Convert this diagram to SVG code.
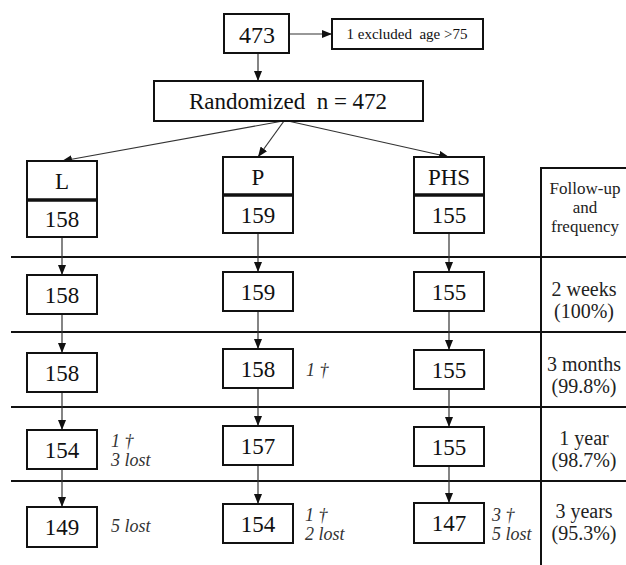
<svg xmlns="http://www.w3.org/2000/svg" width="626" height="565" viewBox="0 0 626 565">
<style>
text{font-family:"Liberation Serif",Tinos,"Times New Roman","DejaVu Serif","Noto Serif",serif}
.box{fill:#fff;stroke:#111;stroke-width:2}
.num{font-size:23px;fill:#111;text-anchor:middle}
.small{font-size:15px;fill:#111;text-anchor:middle}
.fh{font-size:17px;fill:#222;text-anchor:middle}
.fu{font-size:20px;fill:#222;text-anchor:middle}
.ann{font-size:18px;font-style:italic;fill:#333}
.con{stroke:#333;stroke-width:1.2;fill:none}
.rule{stroke:#111;stroke-width:2}
.div{stroke:#111;stroke-width:3.5}
</style>
<defs>
<marker id="ah" markerUnits="userSpaceOnUse" markerWidth="10" markerHeight="8" refX="10" refY="4" orient="auto">
<path d="M0,0 L10,4 L0,8 z" fill="#111"/>
</marker>
</defs>

<g id="table">
<line class="rule" x1="11" y1="257" x2="626" y2="257"/>
<line class="rule" x1="11" y1="332" x2="626" y2="332"/>
<line class="rule" x1="11" y1="407" x2="626" y2="407"/>
<line class="rule" x1="11" y1="481" x2="626" y2="481"/>
<line class="rule" x1="541" y1="167" x2="541" y2="565"/>
<line class="rule" x1="540" y1="168" x2="626" y2="168"/>
<text class="fh" x="585" y="194">Follow-up</text>
<text class="fh" x="585" y="213">and</text>
<text class="fh" x="585" y="232">frequency</text>
<text class="fu" x="584" y="296">2 weeks</text>
<text class="fu" x="584" y="318">(100%)</text>
<text class="fu" x="584" y="371">3 months</text>
<text class="fu" x="584" y="393">(99.8%)</text>
<text class="fu" x="584" y="445">1 year</text>
<text class="fu" x="584" y="467">(98.7%)</text>
<text class="fu" x="584" y="518">3 years</text>
<text class="fu" x="584" y="540">(95.3%)</text>
</g>

<g id="connectors">
<line class="con" x1="289" y1="34" x2="332" y2="34" marker-end="url(#ah)"/>
<line class="con" x1="258" y1="53" x2="258" y2="81" marker-end="url(#ah)"/>
<line class="con" x1="283" y1="121" x2="62" y2="161" marker-end="url(#ah)"/>
<line class="con" x1="284" y1="121" x2="258" y2="157" marker-end="url(#ah)"/>
<line class="con" x1="288" y1="121" x2="449" y2="157" marker-end="url(#ah)"/>
<line class="con" x1="62" y1="237" x2="62" y2="275" marker-end="url(#ah)"/>
<line class="con" x1="62" y1="314" x2="62" y2="353" marker-end="url(#ah)"/>
<line class="con" x1="62" y1="392" x2="62" y2="430" marker-end="url(#ah)"/>
<line class="con" x1="62" y1="469" x2="62" y2="507" marker-end="url(#ah)"/>
<line class="con" x1="258" y1="233" x2="258" y2="272" marker-end="url(#ah)"/>
<line class="con" x1="258" y1="311" x2="258" y2="349" marker-end="url(#ah)"/>
<line class="con" x1="258" y1="388" x2="258" y2="426" marker-end="url(#ah)"/>
<line class="con" x1="258" y1="465" x2="258" y2="504" marker-end="url(#ah)"/>
<line class="con" x1="449" y1="233" x2="449" y2="272" marker-end="url(#ah)"/>
<line class="con" x1="449" y1="311" x2="449" y2="350" marker-end="url(#ah)"/>
<line class="con" x1="449" y1="389" x2="449" y2="427" marker-end="url(#ah)"/>
<line class="con" x1="449" y1="466" x2="449" y2="503" marker-end="url(#ah)"/>
</g>

<g id="n473">
<rect class="box" x="224" y="14" width="65" height="39"/>
<text class="num" x="257" y="43" style="font-size:24px">473</text>
</g>
<g id="excluded">
<rect class="box" x="332" y="19" width="151" height="30"/>
<text class="small" x="407" y="39" xml:space="preserve">1 excluded  age &gt;75</text>
</g>
<g id="randomized">
<rect class="box" x="154" y="81" width="269" height="40"/>
<text class="num" x="288" y="109" xml:space="preserve">Randomized  n = 472</text>
</g>

<g id="L-head">
<rect class="box" x="27" y="161" width="70" height="76"/>
<line class="div" x1="27" y1="200" x2="97" y2="200"/>
<text class="num" x="62" y="189">L</text>
<text class="num" x="62" y="227">158</text>
</g>
<g id="P-head">
<rect class="box" x="223" y="157" width="70" height="76"/>
<line class="div" x1="223" y1="195" x2="293" y2="195"/>
<text class="num" x="258" y="185">P</text>
<text class="num" x="258" y="223">159</text>
</g>
<g id="PHS-head">
<rect class="box" x="414" y="157" width="70" height="76"/>
<line class="div" x1="414" y1="195" x2="484" y2="195"/>
<text class="num" x="449" y="185">PHS</text>
<text class="num" x="449" y="223">155</text>
</g>

<g id="L-2w"><rect class="box" x="27" y="275" width="70" height="39"/><text class="num" x="62" y="303">158</text></g>
<g id="L-3m"><rect class="box" x="27" y="353" width="70" height="39"/><text class="num" x="62" y="381">158</text></g>
<g id="L-1y"><rect class="box" x="27" y="430" width="70" height="39"/><text class="num" x="62" y="458">154</text>
<text class="ann" x="111" y="447">1 †</text><text class="ann" x="111" y="466">3 lost</text></g>
<g id="L-3y"><rect class="box" x="27" y="507" width="70" height="40"/><text class="num" x="62" y="535">149</text>
<text class="ann" x="111" y="532">5 lost</text></g>

<g id="P-2w"><rect class="box" x="223" y="272" width="70" height="39"/><text class="num" x="258" y="300">159</text></g>
<g id="P-3m"><rect class="box" x="223" y="349" width="70" height="39"/><text class="num" x="258" y="377">158</text>
<text class="ann" x="306" y="376">1 †</text></g>
<g id="P-1y"><rect class="box" x="223" y="426" width="70" height="39"/><text class="num" x="258" y="454">157</text></g>
<g id="P-3y"><rect class="box" x="223" y="504" width="70" height="39"/><text class="num" x="258" y="532">154</text>
<text class="ann" x="305" y="521">1 †</text><text class="ann" x="305" y="540">2 lost</text></g>

<g id="PHS-2w"><rect class="box" x="414" y="272" width="70" height="39"/><text class="num" x="449" y="300">155</text></g>
<g id="PHS-3m"><rect class="box" x="414" y="350" width="70" height="39"/><text class="num" x="449" y="378">155</text></g>
<g id="PHS-1y"><rect class="box" x="414" y="427" width="70" height="39"/><text class="num" x="449" y="455">155</text></g>
<g id="PHS-3y"><rect class="box" x="414" y="503" width="70" height="40"/><text class="num" x="449" y="531">147</text>
<text class="ann" x="492" y="521">3 †</text><text class="ann" x="492" y="540">5 lost</text></g>
</svg>
